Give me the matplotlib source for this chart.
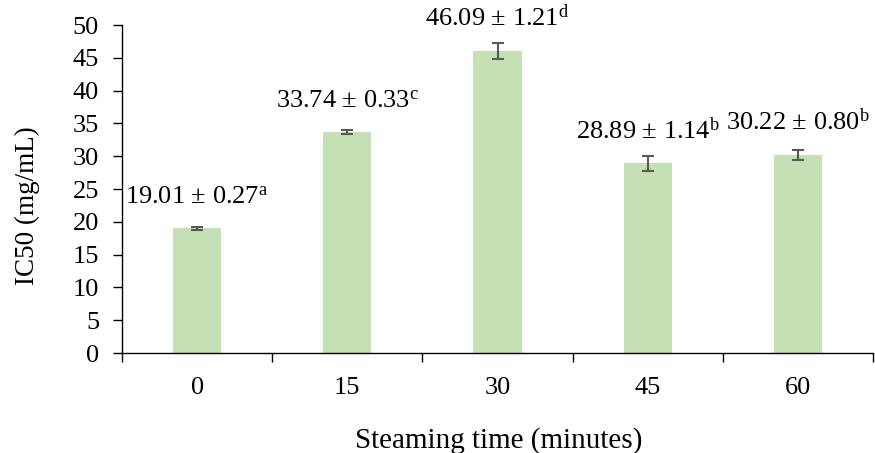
import matplotlib
matplotlib.use("Agg")
import matplotlib.pyplot as plt
import numpy as np

categories = ["0", "15", "30", "45", "60"]
values = [19.01, 33.74, 46.09, 28.89, 30.22]
errors = [0.27, 0.33, 1.21, 1.14, 0.80]
letters = ["a", "c", "d", "b", "b"]
yticks = [0, 5, 10, 15, 20, 25, 30, 35, 40, 45, 50]

plt.rcParams['font.family'] = ['Liberation Serif', 'DejaVu Serif']
plt.rcParams['mathtext.fontset'] = 'custom'
plt.rcParams['mathtext.rm'] = 'Liberation Serif'
plt.rcParams['mathtext.it'] = 'Liberation Serif:italic'
plt.rcParams['mathtext.bf'] = 'Liberation Serif:bold'

fs = 19
fig = plt.figure(figsize=(8.75, 4.53), dpi=100)
ax = fig.add_axes([122/875, 1-353/453, (873-122)/875, (353-25)/453])

x = np.arange(len(categories))
ax.bar(x, values, width=0.32, color="#C5E0B4", zorder=2)
ax.errorbar(x, values, yerr=errors, fmt='none', ecolor="#595959",
            elinewidth=1.5, capsize=4.5, capthick=1.5, zorder=3)

for xi, v, e, l in zip(x, values, errors, letters):
    ax.annotate(f"{v:.2f} ± {e:.2f}" + r"$^{\mathrm{" + l + "}}$",
                xy=(xi, v), xytext=(0, 14), textcoords='offset points',
                ha='center', va='bottom', fontsize=fs)

ax.set_xlim(-0.5, len(categories) - 0.5)
ax.set_ylim(0, 50)
ax.set_yticks(yticks)
ax.tick_params(axis='y', labelsize=fs, length=6.5, width=1, direction='out', pad=10)

ax.set_xticks(np.arange(-0.5, len(categories)), minor=False)
ax.set_xticklabels([])
ax.set_xticks(x, minor=True)
ax.set_xticklabels(categories, minor=True)
ax.tick_params(axis='x', which='major', length=6.5, width=1, direction='out')
ax.tick_params(axis='x', which='minor', length=0, labelsize=fs, pad=17)

for s in ['top', 'right']:
    ax.spines[s].set_visible(False)
for s in ['left', 'bottom']:
    ax.spines[s].set_linewidth(1)
    ax.spines[s].set_color('black')

ax.set_ylabel("IC50 (mg/mL)", fontsize=19.5)
ax.yaxis.set_label_coords(-0.109, 0.45)
ax.set_xlabel("Steaming time (minutes)", fontsize=21)
ax.xaxis.set_label_coords(0.502, -0.225)

fig.savefig("out.png", dpi=100)
